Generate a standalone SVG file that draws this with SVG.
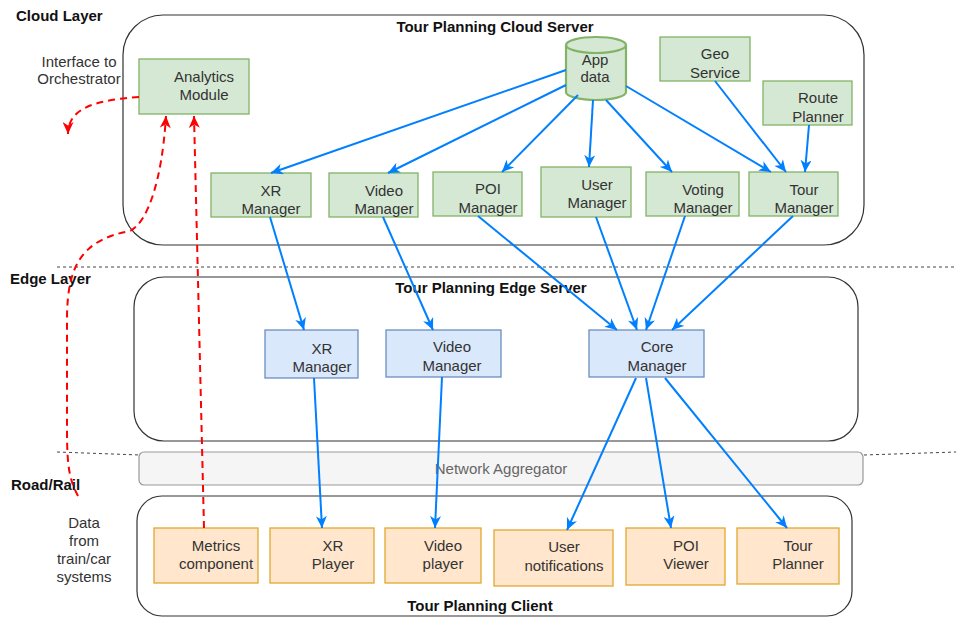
<svg xmlns="http://www.w3.org/2000/svg" width="956" height="617" viewBox="0 0 956 617">
<defs>
<style>
text{font-family:"Liberation Sans",Arial,sans-serif;font-size:15px;fill:#333;text-anchor:middle}
.lbl{font-weight:bold;fill:#111;text-anchor:start}
.ttl{font-weight:bold;fill:#111}
.cont{fill:#fff;stroke:#333;stroke-width:1.2}
.g{fill:#d5e8d4;stroke:#82b366;stroke-width:1.3}
.b{fill:#dae8fc;stroke:#6c8ebf;stroke-width:1.3}
.o{fill:#ffe6cc;stroke:#e0a82e;stroke-width:1.3}
.sep{stroke:#444;stroke-width:1;stroke-dasharray:3 3;fill:none}
.bl{stroke:#007fff;stroke-width:2;fill:none;marker-end:url(#ab)}
.rd{stroke:#ff0000;stroke-width:2;fill:none;stroke-dasharray:7 5;marker-end:url(#ar)}
</style>
<marker id="ab" markerUnits="userSpaceOnUse" markerWidth="13" markerHeight="11" refX="12" refY="5.5" orient="auto" viewBox="0 0 13 11"><path d="M0,0 L12,5.5 L0,11 L3.5,5.5 Z" fill="#007fff"/></marker>
<marker id="ar" markerUnits="userSpaceOnUse" markerWidth="13" markerHeight="11" refX="12" refY="5.5" orient="auto" viewBox="0 0 13 11"><path d="M0,0 L12,5.5 L0,11 L3.5,5.5 Z" fill="#ff0000"/></marker>
</defs>
<rect width="956" height="617" fill="#fff"/>

<g id="separators">
<path class="sep" d="M57,267 L956,267"/>
<path class="sep" d="M57,452 L140,455"/>
<path class="sep" d="M864,455 L956,452"/>
</g>

<g id="layer-labels">
<text class="lbl" x="16" y="21">Cloud Layer</text>
<text class="lbl" x="10" y="284">Edge Layer</text>
<text class="lbl" x="11" y="490">Road/Rail</text>
<text x="79" y="67">Interface to</text>
<text x="79" y="84">Orchestrator</text>
<text x="84" y="528">Data</text>
<text x="84" y="546">from</text>
<text x="84" y="564">train/car</text>
<text x="84" y="582">systems</text>
</g>

<g id="cloud-server">
<rect class="cont" x="123" y="15" width="741" height="230" rx="40"/>
<text class="ttl" x="495" y="32">Tour Planning Cloud Server</text>
</g>
<g id="edge-server">
<rect class="cont" x="134" y="277" width="724" height="164" rx="30"/>
<text class="ttl" x="491" y="293">Tour Planning Edge Server</text>
</g>
<g id="network-aggregator">
<rect x="139" y="452" width="724" height="33" rx="5" fill="#f5f5f5" stroke="#999" stroke-width="1.2"/>
<text x="501" y="474" style="fill:#666">Network Aggregator</text>
</g>
<g id="client">
<rect class="cont" x="137" y="496" width="715" height="120" rx="25"/>
<text class="ttl" x="480" y="611">Tour Planning Client</text>
</g>

<g id="analytics-module"><rect class="g" x="139" y="59" width="110" height="55"/><text x="204" y="82">Analytics</text><text x="204" y="100">Module</text></g>
<g id="app-data">
<path d="M566,45 A30,8 0 0 1 626,45 L626,92 A30,8 0 0 1 566,92 Z" fill="#d5e8d4" stroke="#82b366" stroke-width="2.2"/>
<path d="M566,45 A30,8 0 0 0 626,45" fill="none" stroke="#82b366" stroke-width="2.2"/>
<text x="595" y="65">App</text><text x="595" y="82">data</text>
</g>
<g id="geo-service"><rect class="g" x="660" y="37" width="90" height="44"/><text x="715" y="59">Geo</text><text x="715" y="78">Service</text></g>
<g id="route-planner"><rect class="g" x="763" y="81" width="89" height="44"/><text x="818" y="103">Route</text><text x="818" y="122">Planner</text></g>
<g id="xr-manager-cloud"><rect class="g" x="211" y="173" width="100" height="44"/><text x="271" y="196">XR</text><text x="271" y="214">Manager</text></g>
<g id="video-manager-cloud"><rect class="g" x="329" y="173" width="89" height="44"/><text x="384" y="196">Video</text><text x="384" y="214">Manager</text></g>
<g id="poi-manager"><rect class="g" x="433" y="172" width="89" height="44"/><text x="488" y="194">POI</text><text x="488" y="213">Manager</text></g>
<g id="user-manager"><rect class="g" x="541" y="167" width="90" height="50"/><text x="597" y="190">User</text><text x="597" y="208">Manager</text></g>
<g id="voting-manager"><rect class="g" x="646" y="172" width="93" height="44"/><text x="703" y="195">Voting</text><text x="703" y="213">Manager</text></g>
<g id="tour-manager"><rect class="g" x="749" y="172" width="89" height="44"/><text x="804" y="195">Tour</text><text x="804" y="213">Manager</text></g>

<g id="xr-manager-edge"><rect class="b" x="265" y="330" width="93" height="48"/><text x="322" y="354">XR</text><text x="322" y="372">Manager</text></g>
<g id="video-manager-edge"><rect class="b" x="386" y="330" width="115" height="47"/><text x="452" y="352">Video</text><text x="452" y="371">Manager</text></g>
<g id="core-manager"><rect class="b" x="589" y="330" width="115" height="47"/><text x="657" y="352">Core</text><text x="657" y="371">Manager</text></g>

<g id="metrics-component"><rect class="o" x="154" y="528" width="104" height="55"/><text x="216" y="551">Metrics</text><text x="216" y="569">component</text></g>
<g id="xr-player"><rect class="o" x="270" y="528" width="104" height="55"/><text x="333" y="551">XR</text><text x="333" y="569">Player</text></g>
<g id="video-player"><rect class="o" x="385" y="528" width="96" height="55"/><text x="443" y="551">Video</text><text x="443" y="569">player</text></g>
<g id="user-notifications"><rect class="o" x="494" y="530" width="119" height="56"/><text x="564" y="552">User</text><text x="564" y="571">notifications</text></g>
<g id="poi-viewer"><rect class="o" x="626" y="528" width="99" height="57"/><text x="686" y="551">POI</text><text x="686" y="569">Viewer</text></g>
<g id="tour-planner"><rect class="o" x="737" y="528" width="102" height="56"/><text x="798" y="551">Tour</text><text x="798" y="569">Planner</text></g>

<g id="connectors">
<path class="bl" d="M566,70 L271,173"/>
<path class="bl" d="M566,85 L388,173"/>
<path class="bl" d="M578,95 L502,172"/>
<path class="bl" d="M593,100 L589,167"/>
<path class="bl" d="M606,100 L672,172"/>
<path class="bl" d="M626,86 L771,172"/>
<path class="bl" d="M715,81 L786,172"/>
<path class="bl" d="M809,125 L805,172"/>
<path class="bl" d="M270,217 L304,330"/>
<path class="bl" d="M383,217 L433,330"/>
<path class="bl" d="M478,216 L617,330"/>
<path class="bl" d="M596,217 L637,330"/>
<path class="bl" d="M685,216 L646,330"/>
<path class="bl" d="M793,216 L672,330"/>
<path class="bl" d="M314,378 L322,528"/>
<path class="bl" d="M442,377 L435,528"/>
<path class="bl" d="M636,378 L567,530"/>
<path class="bl" d="M646,378 L671,528"/>
<path class="bl" d="M665,378 L787,528"/>
<path class="rd" d="M139,97 C100,100 68,106 68,134"/>
<path class="rd" d="M78,496 C70,480 67,470 67,430 L67,320 C67,268 80,240 130,231 C148,222 162,180 166,116"/>
<path class="rd" d="M204,528 L194,116"/>
</g>
</svg>
